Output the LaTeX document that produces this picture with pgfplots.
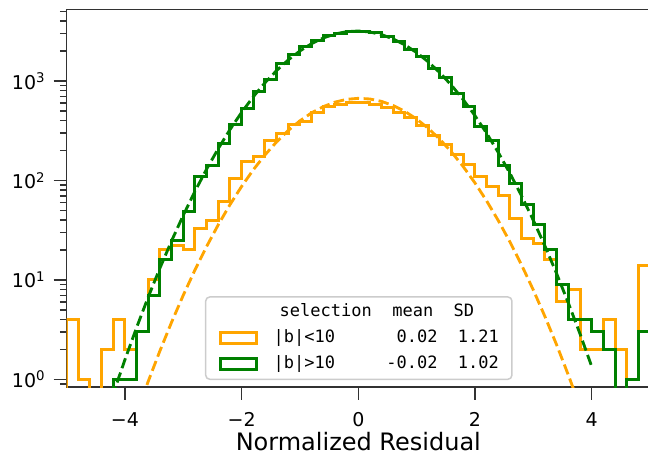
\documentclass[border=0pt]{standalone}
\usepackage{pgfplots}
\pgfplotsset{compat=1.18}
\usepackage{fontspec}
\setmainfont{DejaVu Sans}
\setmonofont{DejaVu Sans Mono}
\definecolor{mplorange}{RGB}{255,165,0}
\definecolor{mplgreen}{RGB}{0,128,0}
\definecolor{spine}{RGB}{50,50,50}
\definecolor{legframe}{RGB}{204,204,204}
\begin{document}
\begin{tikzpicture}
\begin{axis}[
  at={(0pt,0pt)}, anchor=south west,
  scale only axis, width=583.4pt, height=377.5pt,
  xmin=-5, xmax=5, ymode=log, ymin=0.837, ymax=5250,
  tick pos=left, tick align=outside,
  major tick length=13pt, minor tick length=6.7pt,
  tick style={spine, line width=1.5pt},
  axis line style={spine, line width=1.5pt},
  xtick={-4,-2,0,2,4}, xticklabels={−4,−2,0,2,4},
  ytick={1,10,100,1000},
  yticklabels={10\textsuperscript{0},10\textsuperscript{1},10\textsuperscript{2},10\textsuperscript{3}},
  minor ytick={0.9,2,3,4,5,6,7,8,9,20,30,40,50,60,70,80,90,200,300,400,500,600,700,800,900,2000,3000,4000,5000},
  tick label style={font=\fontsize{19pt}{22pt}\selectfont},
  xticklabel style={yshift=-9pt},
  yticklabel style={xshift=-5pt},
  xlabel={Normalized Residual},
  xlabel style={font=\fontsize{24pt}{28pt}\selectfont, yshift=2pt},
  legend style={at={(0.2372,0.0185)}, anchor=south west, draw=legframe, line width=1.5pt,
    rounded corners=4pt, fill=white, inner xsep=13pt, inner ysep=6pt,
    row sep=7.7pt, column sep=16pt,
    font=\fontsize{17pt}{20pt}\ttfamily,
    nodes={inner sep=0pt, text height=13.3pt, text depth=5pt}},
  legend cell align=left,
  legend image code/.code={\draw[#1, sharp corners, line width=3pt, line join=miter] (0pt,-5.8pt) rectangle (36pt,5.8pt);},
]
\addlegendimage{empty legend}
\addlegendentry{\hspace*{6pt}selection~~mean~~SD}

\addplot[mplorange, line width=3pt, const plot, line join=miter] coordinates {
(-5.0,0.01) (-5.0,4) (-4.8,1) (-4.6,0.01) (-4.4,2) (-4.2,4) (-4.0,2) (-3.8,3) (-3.6,10) (-3.4,20) (-3.2,22) (-3.0,20) (-2.8,33) (-2.6,40) (-2.4,61) (-2.2,105) (-2.0,155) (-1.8,174) (-1.6,250) (-1.4,298) (-1.2,362) (-1.0,391) (-0.8,480) (-0.6,552) (-0.4,584) (-0.2,612) (0.0,605) (0.2,580) (0.4,540) (0.6,485) (0.8,428) (1.0,356) (1.2,282) (1.4,228) (1.6,184) (1.8,146) (2.0,109) (2.2,87) (2.4,70) (2.6,41) (2.8,26) (3.0,23) (3.2,16) (3.4,6) (3.6,8) (3.8,2) (4.0,2) (4.2,4) (4.4,2) (4.6,1) (4.8,14) (5.0,14) (5.0,0.01)
};
\addlegendentry{|b|<10~~~~~~0.02~~1.21}

\addplot[mplgreen, line width=3pt, const plot, line join=miter] coordinates {
(-5.0,0.01) (-4.2,1) (-4.0,1) (-3.8,3) (-3.6,7) (-3.4,16) (-3.2,25) (-3.0,49) (-2.8,109) (-2.6,143) (-2.4,237) (-2.2,362) (-2.0,533) (-1.8,782) (-1.6,1043) (-1.4,1510) (-1.2,1832) (-1.0,2220) (-0.8,2550) (-0.6,2843) (-0.4,3027) (-0.2,3140) (0.0,3170) (0.2,3060) (0.4,2790) (0.6,2520) (0.8,2090) (1.0,1770) (1.2,1350) (1.4,1080) (1.6,750) (1.8,560) (2.0,350) (2.2,250) (2.4,140) (2.6,94) (2.8,58) (3.0,36) (3.2,20) (3.4,9) (3.6,4) (3.8,4) (4.0,3) (4.2,2) (4.4,0.01) (4.6,1) (4.8,3) (5.0,3) (5.0,0.01)
};
\addlegendentry{|b|>10~~~~~-0.02~~1.02}

\addplot[mplorange, line width=2.85pt, dash pattern=on 10.5pt off 4.6pt, forget plot] coordinates {
(-3.8,0.455) (-3.6,0.957) (-3.4,1.936) (-3.2,3.761) (-3.0,7.02) (-2.8,12.59) (-2.6,21.69) (-2.4,35.91) (-2.2,57.09) (-2.0,87.21) (-1.8,128.1) (-1.6,180.6) (-1.4,244.8) (-1.2,318.8) (-1.0,398.9) (-0.8,479.4) (-0.6,553.5) (-0.4,614.3) (-0.2,655.0) (0.0,671.0) (0.2,660.4) (0.4,624.2) (0.6,567.1) (0.8,495.0) (1.0,415.1) (1.2,334.4) (1.4,258.9) (1.6,192.5) (1.8,137.6) (2.0,94.5) (2.2,62.3) (2.4,39.5) (2.6,24.06) (2.8,14.08) (3.0,7.91) (3.2,4.27) (3.4,2.218) (3.6,1.105) (3.8,0.530)
};
\addplot[mplgreen, line width=2.85pt, dash pattern=on 10.5pt off 4.6pt, forget plot] coordinates {
(-4.3,0.479) (-4.2,0.719) (-4.0,1.576) (-3.8,3.322) (-3.6,6.743) (-3.4,13.16) (-3.2,24.73) (-3.0,44.7) (-2.8,77.8) (-2.6,130.2) (-2.4,209.7) (-2.2,325.0) (-2.0,484.9) (-1.8,695.9) (-1.6,961.1) (-1.4,1277.7) (-1.2,1634) (-1.0,2011) (-0.8,2381) (-0.6,2714) (-0.4,2977) (-0.2,3141) (0.0,3190) (0.2,3117) (0.4,2931) (0.6,2652) (0.8,2309) (1.0,1935) (1.2,1560) (1.4,1210) (1.6,903.6) (1.8,649.2) (2.0,448.9) (2.2,298.6) (2.4,191.2) (2.6,117.8) (2.8,69.8) (3.0,39.8) (3.2,21.87) (3.4,11.55) (3.6,5.87) (3.8,2.87) (4.0,1.35)
};
\end{axis}
\pgfresetboundingbox
\path[use as bounding box] (-66.6pt,-72pt) rectangle (581.4pt,387pt);
\end{tikzpicture}
\end{document}
